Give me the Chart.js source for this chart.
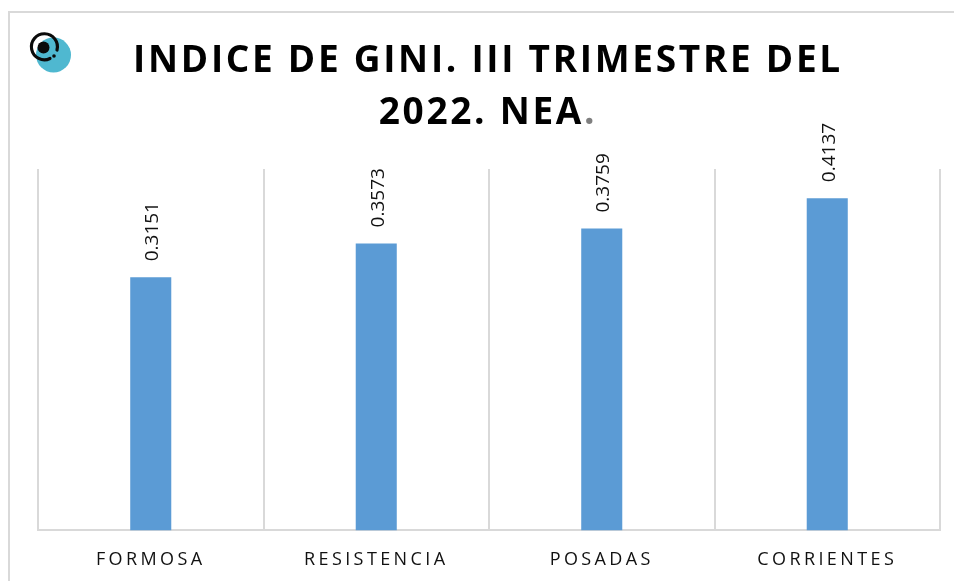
<!DOCTYPE html>
<html>
<head>
<meta charset="utf-8">
<title>Indice de Gini</title>
<script src="https://cdn.jsdelivr.net/npm/chart.js@4/dist/chart.umd.min.js"></script>
<style>
  html, body { margin: 0; padding: 0; background: #fff; overflow: hidden; }
  #wrap { position: relative; width: 954px; height: 581px; overflow: hidden; }
  #frame { position: absolute; left: 8px; top: 11px; width: 1000px; height: 700px; border: 2px solid #d9d9d9; }
  #logo { position: absolute; left: 20px; top: 25px; }
  canvas { position: absolute; left: 0; top: 0; }
</style>
</head>
<body>
<div id="wrap">
  <div id="frame"></div>
  <canvas id="chart" width="954" height="581"></canvas>
  <svg id="logo" width="60" height="56" viewBox="20 25 60 56">
    <circle cx="53.5" cy="55" r="17.5" fill="#4fb8d0"/>
    <path d="M 57 50 A 13 13 0 1 0 50 58.5" fill="none" stroke="#0b0b0b" stroke-width="3.2" stroke-linecap="round"/>
    <circle cx="43.5" cy="47.5" r="6" fill="#0b0b0b"/>
    <circle cx="54" cy="56" r="1.8" fill="#0b0b0b"/>
  </svg>
</div>
<script>
// Chart values
const categories = ['FORMOSA', 'RESISTENCIA', 'POSADAS', 'CORRIENTES'];
const giniValues = [0.3151, 0.3573, 0.3759, 0.4137];
const titleLine1 = 'INDICE DE GINI. III TRIMESTRE DEL';
const titleLine2 = '2022. NEA';
const titleEnd = '.';

// Title and value labels are drawn here: the built-in title can't do letter
// spacing per element or a grey last character, and value labels are rotated
const labelsPlugin = {
    id: 'labels',
    beforeDraw(chart) {
        // picked up by the x axis tick labels
        chart.ctx.letterSpacing = '3.4px';
    },
    afterDatasetsDraw(chart) {
        const ctx = chart.ctx;
        const meta = chart.getDatasetMeta(0);
        ctx.save();
        ctx.letterSpacing = '0px';
        ctx.font = '400 19px "Open Sans"';
        ctx.fillStyle = '#111';
        ctx.textAlign = 'left';
        ctx.textBaseline = 'middle';
        meta.data.forEach((bar, i) => {
            ctx.save();
            ctx.translate(bar.x + 2, bar.y - 16);
            ctx.rotate(-Math.PI / 2);
            ctx.fillText(giniValues[i].toFixed(4), 0, 0);
            ctx.restore();
        });

        // Title
        const center = 488;
        ctx.letterSpacing = '2.7px';
        ctx.font = '700 37px "Open Sans"';
        ctx.textBaseline = 'alphabetic';
        ctx.textAlign = 'left';
        ctx.fillStyle = '#000';
        const w1 = ctx.measureText(titleLine1).width;
        ctx.fillText(titleLine1, center - w1 / 2, 72);
        const w2 = ctx.measureText(titleLine2).width;
        const wEnd = ctx.measureText(titleEnd).width;
        const x2 = center - (w2 + wEnd) / 2;
        ctx.fillText(titleLine2, x2, 124);
        ctx.fillStyle = '#7f7f7f';
        ctx.fillText(titleEnd, x2 + w2, 124);
        ctx.restore();
    }
};

const ctx = document.getElementById('chart').getContext('2d');
new Chart(ctx, {
    type: 'bar',
    data: {
        labels: categories,
        datasets: [{
            data: giniValues,
            backgroundColor: '#5b9bd5',
            categoryPercentage: 1,
            barPercentage: 0.182
        }]
    },
    options: {
        responsive: false,
        animation: false,
        layout: {
            padding: { left: 38, right: 14, top: 169, bottom: -9 }
        },
        plugins: {
            legend: { display: false },
            tooltip: { enabled: false },
            title: { display: false }
        },
        scales: {
            x: {
                grid: { color: '#d9d9d9', lineWidth: 2, drawTicks: false, offset: true },
                border: { color: '#d9d9d9', width: 2 },
                ticks: {
                    color: '#111',
                    padding: 19,
                    maxRotation: 0,
                    font: { family: '"Open Sans"', size: 18 }
                }
            },
            y: {
                display: false,
                min: 0,
                max: 0.45
            }
        }
    },
    plugins: [labelsPlugin]
});
</script>
</body>
</html>
